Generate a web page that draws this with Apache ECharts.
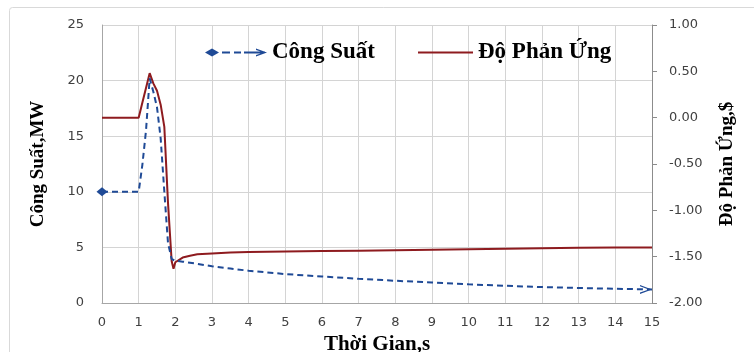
<!DOCTYPE html>
<html>
<head>
<meta charset="utf-8">
<script src="https://cdn.jsdelivr.net/npm/echarts@6/dist/echarts.min.js"></script>
<style>
html,body{margin:0;padding:0;background:#fff;}
#c{width:754px;height:352px;}
</style>
</head>
<body>
<div id="c"></div>
<script>
// ---- data ----
var timeS = [0, 0.5, 1.0, 1.1, 1.2, 1.3, 1.4, 1.5, 1.6, 1.7, 1.8, 1.9, 1.95, 2.0, 2.2, 2.4, 2.6, 3, 3.5, 4, 5, 6, 7, 8, 9, 10, 11, 12, 13, 14, 15];
var powerMW = [10, 10, 10, 12.4, 15.5, 20.2, 19.0, 17.6, 14.8, 10.0, 5.4, 3.95, 3.85, 3.8, 3.72, 3.62, 3.52, 3.3, 3.1, 2.9, 2.6, 2.38, 2.18, 2.0, 1.84, 1.68, 1.55, 1.43, 1.35, 1.28, 1.22];
var reactivity = [0, 0, 0, 0.16, 0.32, 0.48, 0.37, 0.29, 0.14, -0.1, -0.92, -1.55, -1.63, -1.56, -1.51, -1.49, -1.475, -1.465, -1.455, -1.45, -1.445, -1.44, -1.435, -1.43, -1.425, -1.42, -1.415, -1.41, -1.405, -1.40, -1.40];
var xTicks = [0, 15, 1];          // min, max, interval
var leftTicks = [0, 25, 5];
var rightTicks = [-2, 1, 0.5];
var seriesNames = ['Công Suất', 'Độ Phản Ứng'];
var axisNames = ['Thời Gian,s', 'Công Suất,MW', 'Độ Phản Ứng,$'];

var blue = '#1F4A96';
var red = '#8E1B1F';
var arrowPath = 'path://M0,0L10,5L0,10L0,8.4L7.2,5L0,1.6Z';
var legendBluePath = 'path://M0,4L7,0L14,4L7,8Z M17,3H25V5H17Z M29,3H36V5H29Z M39,3H60V5H39Z M51,0L62,4L51,8L51,6.6L58.6,4L51,1.4Z';

var powerData = timeS.map(function (t, i) {
  var item = { value: [t, powerMW[i]] };
  if (i === 0) { item.symbol = 'diamond'; item.symbolSize = [11, 9]; }
  else if (i === timeS.length - 1) { item.symbol = arrowPath; item.symbolSize = [12, 9]; item.symbolOffset = [-6, 0]; }
  else { item.symbol = 'none'; }
  return item;
});
var reactData = timeS.map(function (t, i) { return [t, reactivity[i]]; });

var labelFont = { color: '#404040', fontFamily: 'DejaVu Sans', fontSize: 13 };
var titleFont = { color: '#000', fontFamily: 'Liberation Serif', fontWeight: 'bold' };

var chart = echarts.init(document.getElementById('c'), null, { renderer: 'canvas' });
chart.setOption({
  backgroundColor: '#fff',
  animation: false,
  graphic: [{
    type: 'rect', shape: { x: 9.5, y: 7.5, width: 800, height: 400, r: 3 },
    style: { fill: 'none', stroke: '#d9d9d9', lineWidth: 1 }, z: -10
  }],
  grid: { left: 102, right: 102, top: 25, bottom: 49, containLabel: false, outerBoundsMode: 'none' },
  legend: [{
    left: 205, top: 41, padding: 0, data: [seriesNames[0]], icon: legendBluePath,
    itemWidth: 62, itemHeight: 8, itemGap: 0,
    textStyle: Object.assign({ fontSize: 23 }, titleFont)
  }, {
    left: 418, top: 41, padding: 0, data: [seriesNames[1]], icon: 'path://M0,0H55V2H0Z',
    itemWidth: 55, itemHeight: 2, itemGap: 0,
    textStyle: Object.assign({ fontSize: 23 }, titleFont)
  }],
  xAxis: {
    type: 'value', min: xTicks[0], max: xTicks[1], interval: xTicks[2],
    name: axisNames[0], nameLocation: 'middle', nameGap: 30,
    nameTextStyle: Object.assign({ fontSize: 21 }, titleFont),
    axisLine: { show: true, lineStyle: { color: '#a6a6a6', width: 1 } },
    axisTick: { show: false },
    axisLabel: Object.assign({ margin: 13 }, labelFont),
    splitLine: { show: true, lineStyle: { color: '#d4d4d4', width: 1 } }
  },
  yAxis: [{
    type: 'value', position: 'left', min: leftTicks[0], max: leftTicks[1], interval: leftTicks[2],
    name: axisNames[1], nameLocation: 'middle', nameRotate: 90, nameGap: 54,
    nameTextStyle: Object.assign({ fontSize: 19 }, titleFont),
    axisLine: { show: true, lineStyle: { color: '#a6a6a6', width: 1 } },
    axisTick: { show: false },
    axisLabel: Object.assign({ margin: 18 }, labelFont),
    splitLine: { show: true, lineStyle: { color: '#d4d4d4', width: 1 } }
  }, {
    type: 'value', position: 'right', min: rightTicks[0], max: rightTicks[1], interval: rightTicks[2],
    name: axisNames[2], nameLocation: 'middle', nameRotate: 90, nameGap: 66,
    nameTextStyle: Object.assign({ fontSize: 19 }, titleFont),
    axisLine: { show: true, lineStyle: { color: '#8c8c8c', width: 1 } },
    axisTick: { show: true, inside: false, length: 5, lineStyle: { color: '#8c8c8c' } },
    axisLabel: Object.assign({ margin: 17, formatter: function (v) { return v.toFixed(2); } }, labelFont),
    splitLine: { show: false }
  }],
  series: [{
    name: seriesNames[1], type: 'line', yAxisIndex: 1, data: reactData,
    symbol: 'none', clip: false, z: 2,
    lineStyle: { color: red, width: 2 }, itemStyle: { color: red }
  }, {
    name: seriesNames[0], type: 'line', yAxisIndex: 0, data: powerData,
    showSymbol: true, showAllSymbol: true, clip: false, z: 3,
    lineStyle: { color: blue, width: 2, type: [6, 4] },
    itemStyle: { color: blue, borderWidth: 0 }
  }]
});
</script>
</body>
</html>
